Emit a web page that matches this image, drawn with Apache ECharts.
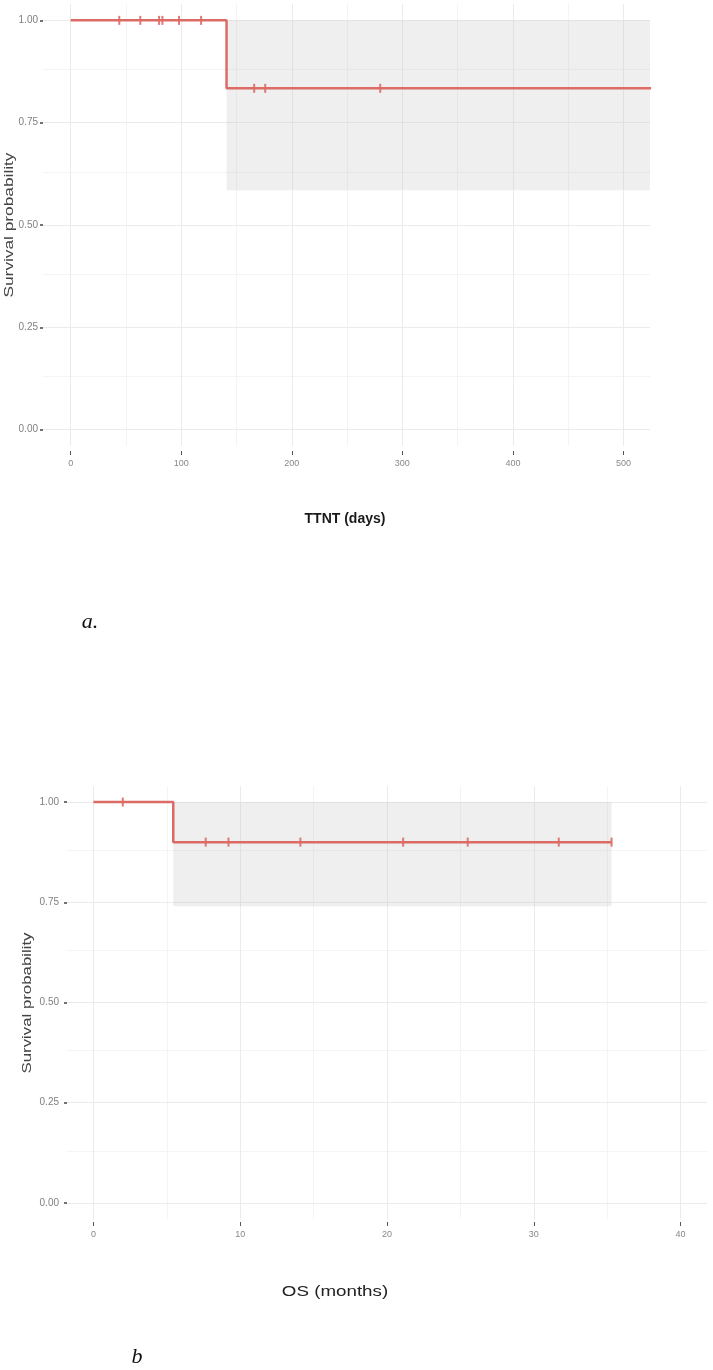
<!DOCTYPE html>
<html><head><meta charset="utf-8">
<script src="https://cdn.jsdelivr.net/npm/echarts@6/dist/echarts.min.js"></script>
<style>html,body{margin:0;padding:0;background:#fff}#c{width:713px;height:1370px}</style>
</head><body><div id="c"></div>
<script>
// ---------- Panel a: TTNT (days) ----------
const aEventTimes = [0, 141, 525];
const aSurvival = [1.0, 0.834, 0.834];
const aCensorTimes = [44, 63, 80, 83, 98, 118, 166, 176, 280, 525];
const aCensorSurv = [1, 1, 1, 1, 1, 1, 0.834, 0.834, 0.834, 0.834];
const aCiTimes = [141, 525];
const aCiLower = [0.585];
const aCiUpper = [1.0];
const aXTicks = [0, 100, 200, 300, 400, 500];
const aXMinor = [50, 150, 250, 350, 450];

// ---------- Panel b: OS (months) ----------
const bEventTimes = [0, 5.44, 35.3];
const bSurvival = [1.0, 0.90, 0.90];
const bCensorTimes = [2.0, 7.65, 9.2, 14.1, 21.1, 25.5, 31.7, 35.3];
const bCensorSurv = [1, 0.90, 0.90, 0.90, 0.90, 0.90, 0.90, 0.90];
const bCiTimes = [5.44, 35.3];
const bCiLower = [0.74];
const bCiUpper = [1.0];
const bXTicks = [0, 10, 20, 30, 40];
const bXMinor = [5, 15, 25, 35];

// ---------- shared y ticks ----------
const yTicks = [0, 0.25, 0.5, 0.75, 1.0];
const yMinor = [0.125, 0.375, 0.625, 0.875];

const LINE_COLOR = '#dc6b66';
const MAJOR = '#ebebeb';
const MINOR = '#f4f4f4';

function zip(xs, ys) { return xs.map((x, i) => [x, ys[i]]); }

function gridSeries(idx, xMajor, xMinor) {
  const d = [];
  xMinor.forEach(v => d.push({ xAxis: v, lineStyle: { color: MINOR, width: 1, type: 'solid' } }));
  yMinor.forEach(v => d.push({ yAxis: v, lineStyle: { color: MINOR, width: 1, type: 'solid' } }));
  xMajor.forEach(v => d.push({ xAxis: v, lineStyle: { color: MAJOR, width: 1, type: 'solid' } }));
  yTicks.forEach(v => d.push({ yAxis: v, lineStyle: { color: MAJOR, width: 1, type: 'solid' } }));
  return {
    type: 'line', xAxisIndex: idx, yAxisIndex: idx, data: [], z: 0, silent: true,
    markLine: { z: 0, silent: true, symbol: ['none', 'none'], label: { show: false }, animation: false, data: d }
  };
}
function bandSeries(idx, times, lo, hi) {
  return {
    type: 'line', xAxisIndex: idx, yAxisIndex: idx, data: [], z: 1, silent: true,
    markArea: {
      z: 1, silent: true, animation: false,
      itemStyle: { color: 'rgba(190,190,190,0.24)' },
      data: [[{ xAxis: times[0], yAxis: lo[0] }, { xAxis: times[1], yAxis: hi[0] }]]
    }
  };
}
function curveSeries(idx, t, s) {
  return {
    type: 'line', xAxisIndex: idx, yAxisIndex: idx, step: 'end', data: zip(t, s),
    showSymbol: false, symbol: 'none', z: 6, animation: false,
    lineStyle: { color: LINE_COLOR, width: 2.5 }
  };
}
function censorSeries(idx, t, s) {
  return {
    type: 'scatter', xAxisIndex: idx, yAxisIndex: idx, data: zip(t, s), z: 7, animation: false,
    symbol: 'rect', symbolSize: [2, 9], itemStyle: { color: LINE_COLOR, opacity: 0.9 }
  };
}
function xAxisCfg(idx, min, max, ticks, offset, margin) {
  return {
    gridIndex: idx, type: 'value', min: min, max: max, offset: offset, position: 'bottom',
    axisLine: { show: false, onZero: false },
    axisTick: { show: true, customValues: ticks, length: 4, lineStyle: { color: '#555', width: 1 } },
    axisLabel: { customValues: ticks, fontSize: 9, color: '#888', margin: margin, fontFamily: 'Liberation Sans' },
    splitLine: { show: false }
  };
}
function yAxisCfg(idx, fontSize, margin) {
  return {
    gridIndex: idx, type: 'value', min: -0.04, max: 1.04, position: 'left',
    axisLine: { show: false, onZero: false },
    axisTick: { show: true, customValues: yTicks, length: 3, lineStyle: { color: '#444', width: 1.5 } },
    axisLabel: { customValues: yTicks, fontSize: fontSize, color: '#808080', margin: margin,
      fontFamily: 'Liberation Sans', formatter: v => v.toFixed(2) },
    splitLine: { show: false }
  };
}

const chart = echarts.init(document.getElementById('c'), null, { renderer: 'canvas' });
chart.setOption({
  backgroundColor: '#fff',
  animation: false,
  grid: [
    { left: 43, top: 4, width: 607, height: 442, containLabel: false, outerBoundsMode: 'none' },
    { left: 67, top: 786, width: 640, height: 433, containLabel: false, outerBoundsMode: 'none' }
  ],
  xAxis: [
    xAxisCfg(0, -25, 524, aXTicks, 5, 8),
    xAxisCfg(1, -1.8, 41.8, bXTicks, 3, 8)
  ],
  yAxis: [
    yAxisCfg(0, 10, 5),
    yAxisCfg(1, 10, 8)
  ],
  series: [
    gridSeries(0, aXTicks, aXMinor),
    bandSeries(0, aCiTimes, aCiLower, aCiUpper),
    curveSeries(0, aEventTimes, aSurvival),
    censorSeries(0, aCensorTimes, aCensorSurv),
    gridSeries(1, bXTicks, bXMinor),
    bandSeries(1, bCiTimes, bCiLower, bCiUpper),
    curveSeries(1, bEventTimes, bSurvival),
    censorSeries(1, bCensorTimes, bCensorSurv)
  ],
  graphic: [
    { type: 'text', x: 10, y: 225, rotation: Math.PI / 2, scaleX: 1.44,
      style: { text: 'Survival probability', fontSize: 12, fill: '#444', fontFamily: 'Liberation Sans',
        align: 'center', verticalAlign: 'middle' } },
    { type: 'text', x: 345, y: 519,
      style: { text: 'TTNT (days)', fontSize: 14, fontWeight: 'bold', fill: '#1a1a1a', fontFamily: 'Liberation Sans',
        align: 'center', verticalAlign: 'middle' } },
    { type: 'text', x: 90, y: 622,
      style: { text: 'a.', fontSize: 22, fontStyle: 'italic', fill: '#111', fontFamily: 'Liberation Serif',
        align: 'center', verticalAlign: 'middle' } },
    { type: 'text', x: 28, y: 1003, rotation: Math.PI / 2, scaleX: 1.4,
      style: { text: 'Survival probability', fontSize: 12, fill: '#444', fontFamily: 'Liberation Sans',
        align: 'center', verticalAlign: 'middle' } },
    { type: 'text', x: 335, y: 1292, scaleX: 1.25,
      style: { text: 'OS (months)', fontSize: 15, fill: '#222', fontFamily: 'Liberation Sans',
        align: 'center', verticalAlign: 'middle' } },
    { type: 'text', x: 137, y: 1357,
      style: { text: 'b', fontSize: 22, fontStyle: 'italic', fill: '#111', fontFamily: 'Liberation Serif',
        align: 'center', verticalAlign: 'middle' } }
  ]
});
</script>
</body></html>
